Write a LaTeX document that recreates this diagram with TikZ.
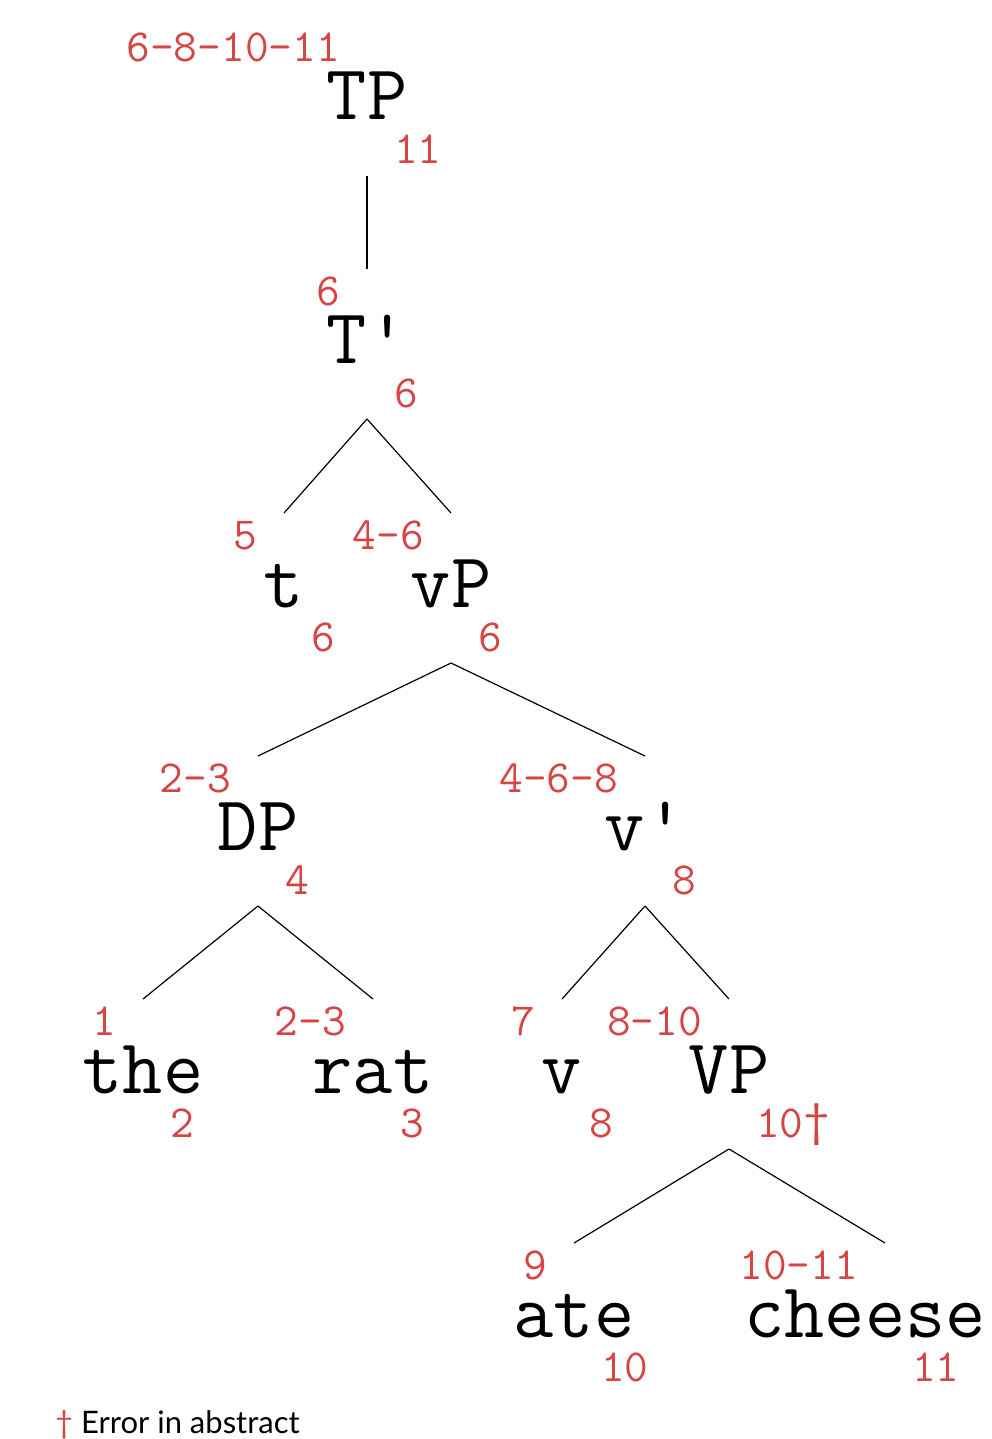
\documentclass[tikz,border=0pt]{standalone}
\usepackage{fontspec}
\newfontfamily\latofont{Lato}
\usetikzlibrary{calc}
\definecolor{labred}{RGB}{214,68,68}
\tikzset{
  word/.style={inner sep=0pt, anchor=base,
    font=\fontsize{78}{80}\selectfont\ttfamily},
  lab/.style={inner sep=0pt, text=labred, font=\fontsize{46}{48}\selectfont\ttfamily},
  edge/.style={draw=black, line width=1.2pt},
}
\newcommand{\tl}[3]{\node[lab, anchor=base east] (#1tl) at ($(#1.base)+(-27,-58)$) {#2};
  \node[lab, anchor=base west] (#1br) at ($(#1.base)+(27,44)$) {#3};}
\newcommand{\br}[2]{\draw[edge] ($(#1.base)+(0,56)$) -- ($(#2.base)+(0,-94)$);}
\begin{document}
\begin{tikzpicture}[x=1pt,y=-1pt]
\useasboundingbox (0,0) rectangle (992,1439);
\node[word] (TP) at (367,120) {TP};
\node[word] (Tb) at (367,363) {T'};
\node[word] (t) at (284,607) {t};
\node[word] (vP) at (451,607) {vP};
\node[word] (DP) at (258,850) {DP};
\node[word] (vb) at (645,850) {v'};
\node[word] (the) at (143,1093) {the};
\node[word] (rat) at (373,1093) {rat};
\node[word] (v) at (562,1093) {v};
\node[word] (VP) at (729,1093) {VP};
\node[word] (ate) at (574,1337) {ate};
\coordinate (cheese) at (885,1337);
\node[word] (cheeseword) at (865,1337) {cheese};
\tl{TP}{6-8-10-11}{11}
\tl{Tb}{6}{6}
\tl{t}{5}{6}
\tl{vP}{4-6}{6}
\tl{DP}{2-3}{4}
\tl{vb}{4-6-8}{8}
\tl{the}{1}{2}
\tl{rat}{2-3}{3}
\tl{v}{7}{8}
\tl{VP}{8-10}{10{\latofont †}}
\tl{ate}{9}{10}
\tl{cheese}{10-11}{11}
\br{TP}{Tb}
\br{Tb}{t}
\br{Tb}{vP}
\br{vP}{DP}
\br{vP}{vb}
\br{DP}{the}
\br{DP}{rat}
\br{vb}{v}
\br{vb}{VP}
\br{VP}{ate}
\draw[edge] ($(VP.base)+(0,56)$) -- ($(cheese)+(0,-94)$);
\node[inner sep=0pt, anchor=base west, font=\fontsize{31}{33}\selectfont\latofont] (legend) at (55,1433) {\textcolor{labred}{†} Error in abstract};
\end{tikzpicture}
\end{document}
